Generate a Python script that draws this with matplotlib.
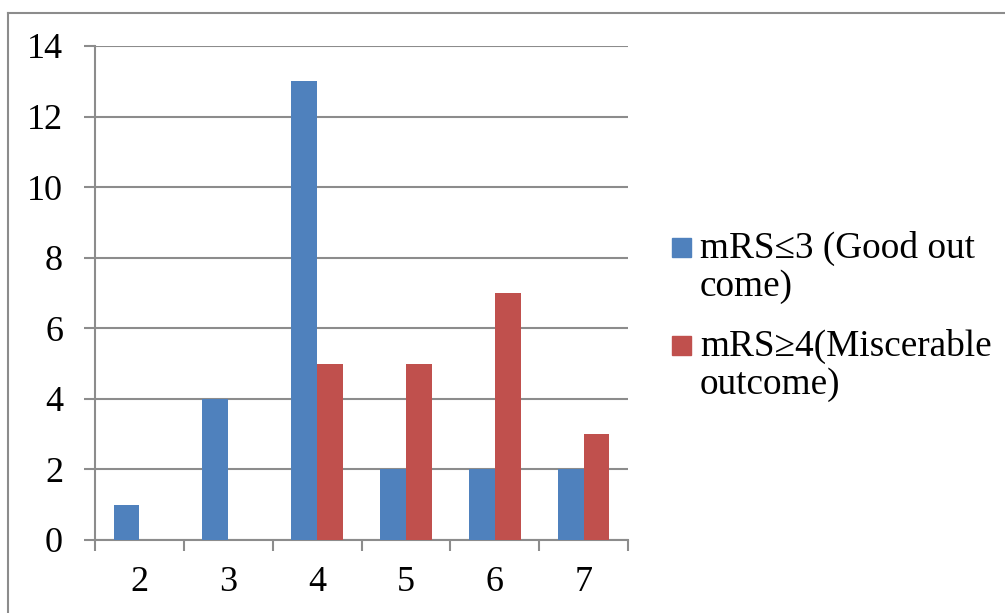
import numpy as np
import matplotlib.pyplot as plt
from matplotlib.lines import Line2D
from matplotlib.patches import Rectangle

# data
categories = ['2', '3', '4', '5', '6', '7']
good = [1, 4, 13, 2, 2, 2]
poor = [0, 0, 5, 5, 7, 3]
labels = ['mRS\u22643 (Good out\ncome)', 'mRS\u22654(Miscerable\noutcome)']

blue = '#4F81BD'
red = '#C0504D'
grey = '#8C8C8C'

plt.rcParams['font.family'] = ['Liberation Serif', 'DejaVu Serif']

W, H = 1005, 613
fig = plt.figure(figsize=(W/100, H/100), dpi=100)
ax = fig.add_axes([95/W, 1-540/H, 533/W, 494/H])

x = np.arange(len(categories))
w = 0.29
ax.bar(x - w/2, good, w, color=blue, zorder=3)
ax.bar(x + w/2, poor, w, color=red, zorder=3)

ax.set_xlim(-0.5, len(categories) - 0.5)
ax.set_ylim(0, 14)
ax.set_yticks(range(0, 15, 2))
ax.set_xticks(x)
ax.set_xticklabels(categories)
ax.set_xticks(np.arange(-0.5, len(categories)), minor=True)

ax.yaxis.grid(True, color=grey, linewidth=1.5, zorder=0)
for s in ['top', 'right']:
    ax.spines[s].set_visible(False)
for s in ['left', 'bottom']:
    ax.spines[s].set_color(grey)
    ax.spines[s].set_linewidth(1.5)

ax.tick_params(axis='y', length=8, width=1.5, color=grey, pad=15, labelsize=26)
ax.tick_params(axis='x', which='major', length=0, pad=19, labelsize=26)
ax.tick_params(axis='x', which='minor', length=8, width=1.5, color=grey)

# legend: square sits on the first line, text baseline given for last line
for lab, col, sq, base in [(labels[0], blue, 257, 296), (labels[1], red, 355, 394)]:
    fig.add_artist(Rectangle((672/W, 1-sq/H), 19/W, 19/H, color=col,
                             transform=fig.transFigure))
    fig.text(700/W, 1-base/H, lab, fontsize=26.8, va='baseline', ha='left',
             linespacing=1.15)

# outer chart border (only top and left visible in the crop)
fig.add_artist(Line2D([8/W, 8/W], [0, 1-13/H], color=grey, lw=1.5))
fig.add_artist(Line2D([8/W, 1004/W], [1-13/H, 1-13/H], color=grey, lw=1.5))

fig.savefig('out.png', dpi=100)
